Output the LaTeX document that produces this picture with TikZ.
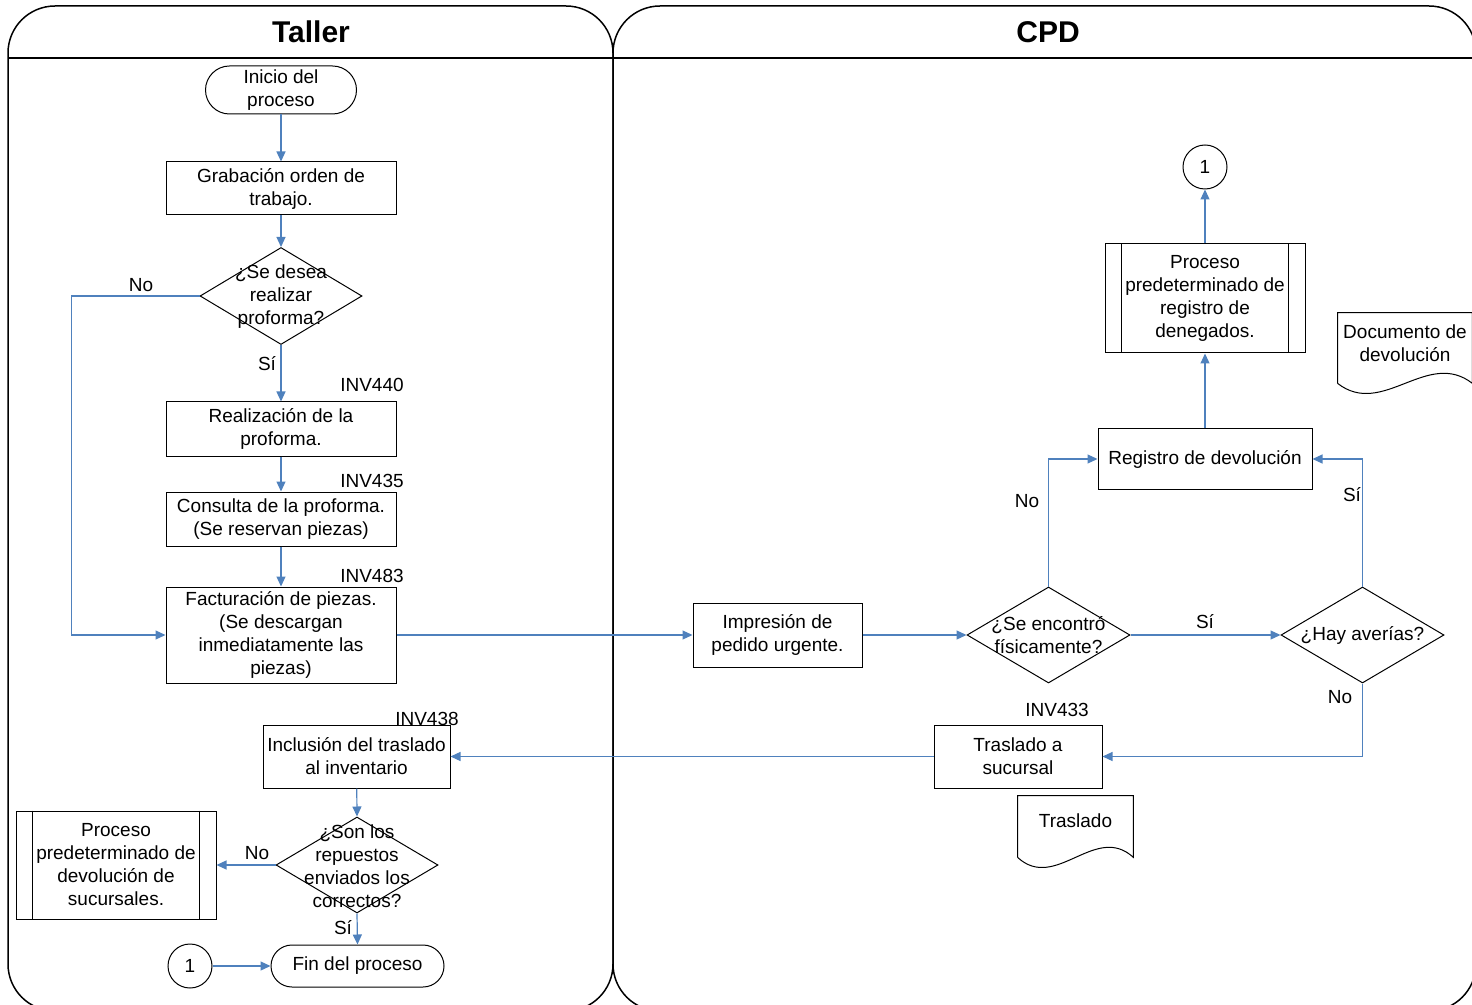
\documentclass[tikz,border=0pt]{standalone}
\usepackage{fontspec}
\setmainfont{Liberation Sans}
\usetikzlibrary{arrows.meta,calc,shapes.geometric}
\definecolor{flowblue}{RGB}{79,129,189}

\begin{document}
\begin{tikzpicture}[x=0.5pt,y=-0.5pt,
  font=\fontsize{9.5}{11.5}\selectfont,
  lane/.style={draw=black,line width=0.75pt},
  title/.style={font=\fontsize{15}{18}\selectfont\bfseries},
  box/.style={draw=black,line width=0.5pt,rectangle,align=center,inner sep=1pt},
  term/.style={box,rounded corners=#1},
  dec/.style={draw=black,line width=0.5pt,diamond,inner sep=0pt},
  conn/.style={draw=black,line width=0.5pt,circle,inner sep=0pt,minimum size=22pt},
  docbox/.style={rectangle,align=center,inner sep=1pt},
  txt/.style={align=center,inner sep=0pt},
  lbl/.style={inner sep=0pt},
  arr/.style={draw=flowblue,line width=0.6pt,-{Triangle[length=5pt,width=4.5pt]}},
]
\useasboundingbox (0,0) rectangle (1472,1005);

% swimlanes
\draw[lane,rounded corners=23.5pt] (8,6) rectangle (613,1011);
\draw[lane,rounded corners=23.5pt] (613,6) rectangle (1476,1011);
\draw[lane] (8,58) -- (1476,58);
\node[title] (ttaller) at (311,32) {Taller};
\node[title] (tcpd) at (1048,32) {CPD};

% Taller lane
\node[term=12pt,minimum width=75.5pt,minimum height=24pt] (start) at (281,90) {Inicio del\\proceso};
\node[box,minimum width=115pt,minimum height=26.5pt] (grab) at (281,188.5) {Grabación orden de\\trabajo.};
\node[dec,minimum width=81pt,minimum height=48.5pt] (d1) at (281,296) {};
\node[txt] (d1t) at (281,297) {¿Se desea\\realizar\\proforma?};
\node[box,minimum width=115pt,minimum height=27pt] (real) at (281,429) {Realización de la\\proforma.};
\node[box,minimum width=115pt,minimum height=27pt] (cons) at (281,519) {Consulta de la proforma.\\(Se reservan piezas)};
\node[box,minimum width=115pt,minimum height=48pt] (fact) at (281,635) {Facturación de piezas.\\(Se descargan\\inmediatamente las\\piezas)};
\node[box,minimum width=93.5pt,minimum height=31.5pt] (incl) at (356.5,756.5) {Inclusión del traslado\\al inventario};
\node[dec,minimum width=81pt,minimum height=48pt] (d2) at (357,865) {};
\node[txt] (d2t) at (357,866) {¿Son los\\repuestos\\enviados los\\correctos?};
\node[box,minimum width=100pt,minimum height=54pt] (proc2) at (116,865) {Proceso\\predeterminado de\\devolución de\\sucursales.};
\draw[line width=0.5pt] ($(proc2.north west)+(17,0)$) -- ($(proc2.south west)+(17,0)$);
\draw[line width=0.5pt] ($(proc2.north east)+(-17,0)$) -- ($(proc2.south east)+(-17,0)$);
\node[conn] (c1) at (190,966) {1};
\node[term=10.5pt,minimum width=86.5pt,minimum height=21pt] (fin) at (357.5,966) {Fin del proceso};

\node[lbl] (inv440) at (372,385) {INV440};
\node[lbl] (inv435) at (372,481) {INV435};
\node[lbl] (inv483) at (372,576) {INV483};
\node[lbl] (inv438) at (427,719) {INV438};

% CPD lane
\node[box,minimum width=84.5pt,minimum height=32pt] (imp) at (777.5,635) {Impresión de\\pedido urgente.};
\node[dec,minimum width=81.5pt,minimum height=48pt] (d3) at (1048.5,635) {};
\node[txt] (d3t) at (1048.5,635) {¿Se encontró\\físicamente?};
\node[dec,minimum width=81.5pt,minimum height=48pt] (d4) at (1362.5,635) {};
\node[txt] (d4t) at (d4) {¿Hay averías?};
\node[box,minimum width=107pt,minimum height=30pt] (reg) at (1205,459) {Registro de devolución};
\node[box,minimum width=100pt,minimum height=54.5pt] (proc1) at (1205,298.5) {Proceso\\predeterminado de\\registro de\\denegados.};
\draw[line width=0.5pt] ($(proc1.north west)+(17,0)$) -- ($(proc1.south west)+(17,0)$);
\draw[line width=0.5pt] ($(proc1.north east)+(-17,0)$) -- ($(proc1.south east)+(-17,0)$);
\node[conn] (c2) at (1205,167) {1};
\node[box,minimum width=84pt,minimum height=31.5pt] (tras) at (1018,756.5) {Traslado a\\sucursal};
\node[lbl] (inv433) at (1057,710) {INV433};

% documents
\node[docbox,minimum width=67pt,minimum height=30pt] (doc1) at (1405,343) {Documento de\\devolución};
\draw[line width=0.5pt] ($(doc1.south west)+(0,10)$) -- (doc1.north west) -- (doc1.north east) -- ($(doc1.south east)+(0,10)$)
  .. controls ($(doc1.south east)+(-45,-25)$) and ($(doc1.south west)+(45,45)$) .. ($(doc1.south west)+(0,10)$);
\node[docbox,minimum width=57.5pt,minimum height=25pt] (doc2) at (1075.5,821) {Traslado};
\draw[line width=0.5pt] ($(doc2.south west)+(0,11)$) -- (doc2.north west) -- (doc2.north east) -- ($(doc2.south east)+(0,11)$)
  .. controls ($(doc2.south east)+(-38,-24)$) and ($(doc2.south west)+(38,46)$) .. ($(doc2.south west)+(0,11)$);

% connectors
\draw[arr] (start) -- (grab);
\draw[arr] (grab) -- (d1);
\draw[arr] (d1.south) -- (real.north);
\draw[arr] (d1.west) -- ++(-128,0) |- (fact.west);
\draw[arr] (real) -- (cons);
\draw[arr] (cons) -- (fact);
\draw[arr] (fact.east) -- (imp.west);
\draw[arr] (imp.east) -- (d3.west);
\draw[arr] (d3.east) -- (d4.west);
\draw[arr] (d3.north) |- (reg.west);
\draw[arr] (d4.north) |- (reg.east);
\draw[arr] (reg) -- (proc1);
\draw[arr] (proc1) -- (c2);
\draw[arr] (d4.south) |- (tras.east);
\draw[arr] (tras.west) -- (incl.east);
\draw[arr] (incl) -- (d2.north);
\draw[arr] (d2.west) -- (proc2.east);
\draw[arr] (d2.south) -- (fin.north);
\draw[arr] (c1) -- (fin);

% branch labels
\node[lbl] (l1) at (141,285) {No};
\node[lbl] (l2) at (267,364) {Sí};
\node[lbl] (l3) at (257,853) {No};
\node[lbl] (l4) at (343,928) {Sí};
\node[lbl] (l5) at (1027,501) {No};
\node[lbl] (l6) at (1352,495) {Sí};
\node[lbl] (l7) at (1205,622) {Sí};
\node[lbl] (l8) at (1340,697) {No};
\end{tikzpicture}
\end{document}
